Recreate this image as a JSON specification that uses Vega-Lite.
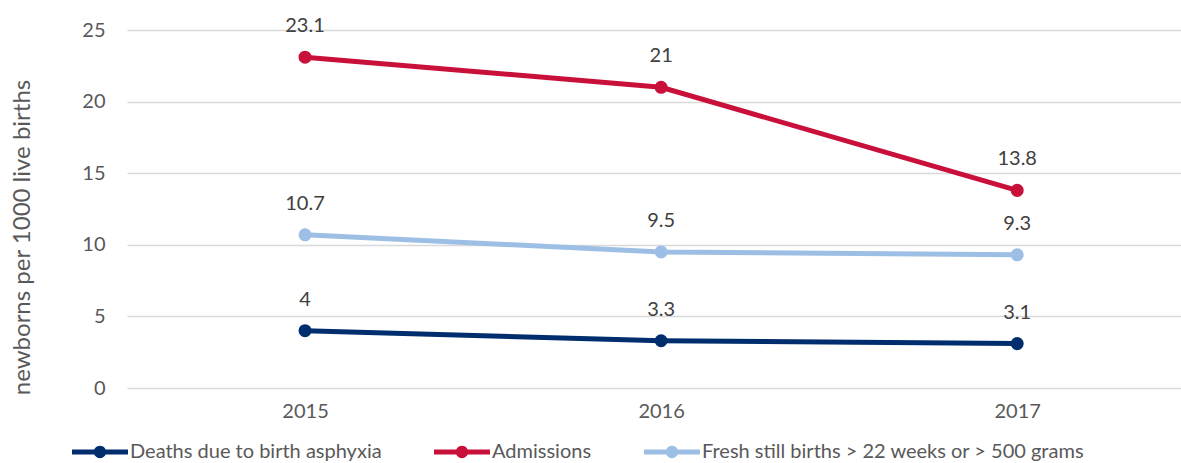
{
  "$schema": "https://vega.github.io/schema/vega-lite/v6.json",
  "width": 1054,
  "height": 358,
  "autosize": {"type": "none"},
  "padding": {"left": 127, "top": 30, "right": 0, "bottom": 75},
  "background": "white",
  "config": {
    "view": {"stroke": null},
    "font": "Lato",
    "axis": {"labelFont": "Lato", "titleFont": "Lato"},
    "legend": {"labelFont": "Lato"}
  },
  "data": {
    "values": [
      {"year": 2015, "series": "Deaths due to birth asphyxia", "value": 4},
      {"year": 2016, "series": "Deaths due to birth asphyxia", "value": 3.3},
      {"year": 2017, "series": "Deaths due to birth asphyxia", "value": 3.1},
      {"year": 2015, "series": "Admissions", "value": 23.1},
      {"year": 2016, "series": "Admissions", "value": 21},
      {"year": 2017, "series": "Admissions", "value": 13.8},
      {"year": 2015, "series": "Fresh still births > 22 weeks or > 500 grams", "value": 10.7},
      {"year": 2016, "series": "Fresh still births > 22 weeks or > 500 grams", "value": 9.5},
      {"year": 2017, "series": "Fresh still births > 22 weeks or > 500 grams", "value": 9.3}
    ]
  },
  "encoding": {
    "x": {
      "field": "year",
      "type": "quantitative",
      "scale": {"domain": [2014.5, 2017.46], "nice": false, "zero": false},
      "axis": {
        "title": null,
        "values": [2015, 2016, 2017],
        "format": "d",
        "grid": false,
        "domain": false,
        "ticks": false,
        "labelFontSize": 20,
        "labelColor": "#595959",
        "labelPadding": 13
      }
    },
    "y": {
      "field": "value",
      "type": "quantitative",
      "scale": {"domain": [0, 25], "nice": false},
      "axis": {
        "title": "newborns per 1000 live births",
        "titleFontSize": 24,
        "titleFontWeight": "normal",
        "titleColor": "#595959",
        "titleY": 207,
        "titleX": -117,
        "titleAlign": "center",
        "titleAngle": -90,
        "titleBaseline": "top",
        "values": [0, 5, 10, 15, 20, 25],
        "grid": true,
        "gridColor": "#d9d9d9",
        "gridWidth": 1.5,
        "domain": false,
        "ticks": false,
        "labelFontSize": 20,
        "labelColor": "#595959",
        "labelPadding": 22
      }
    },
    "color": {
      "field": "series",
      "type": "nominal",
      "scale": {
        "domain": ["Deaths due to birth asphyxia", "Admissions", "Fresh still births > 22 weeks or > 500 grams"],
        "range": ["#002d6e", "#c8103a", "#9dbfe6"]
      },
      "legend": {
        "title": null,
        "orient": "none",
        "direction": "horizontal",
        "legendX": -55,
        "legendY": 394,
        "labelFontSize": 20,
        "labelColor": "#595959",
        "labelLimit": 600,
        "symbolType": "M-1,-0.09L1,-0.09L1,0.09L-1,0.09Z M-0.22,0 A0.22,0.22 0 1,1 0.22,0 A0.22,0.22 0 1,1 -0.22,0Z",
        "symbolSize": 3136,
        "symbolStrokeWidth": 0,
        "labelOffset": 2,
        "columnPadding": 52,
        "encode": {
          "symbols": {"update": {"fill": {"scale": "color", "field": "value"}, "strokeWidth": {"value": 0}}}
        }
      }
    }
  },
  "layer": [
    {"mark": {"type": "line", "strokeWidth": 5}},
    {"mark": {"type": "point", "filled": true, "size": 170, "opacity": 1}},
    {
      "mark": {"type": "text", "dy": -31, "fontSize": 20, "color": "#404040"},
      "encoding": {
        "text": {"field": "value", "type": "quantitative"},
        "color": {"value": "#404040"}
      }
    }
  ]
}
